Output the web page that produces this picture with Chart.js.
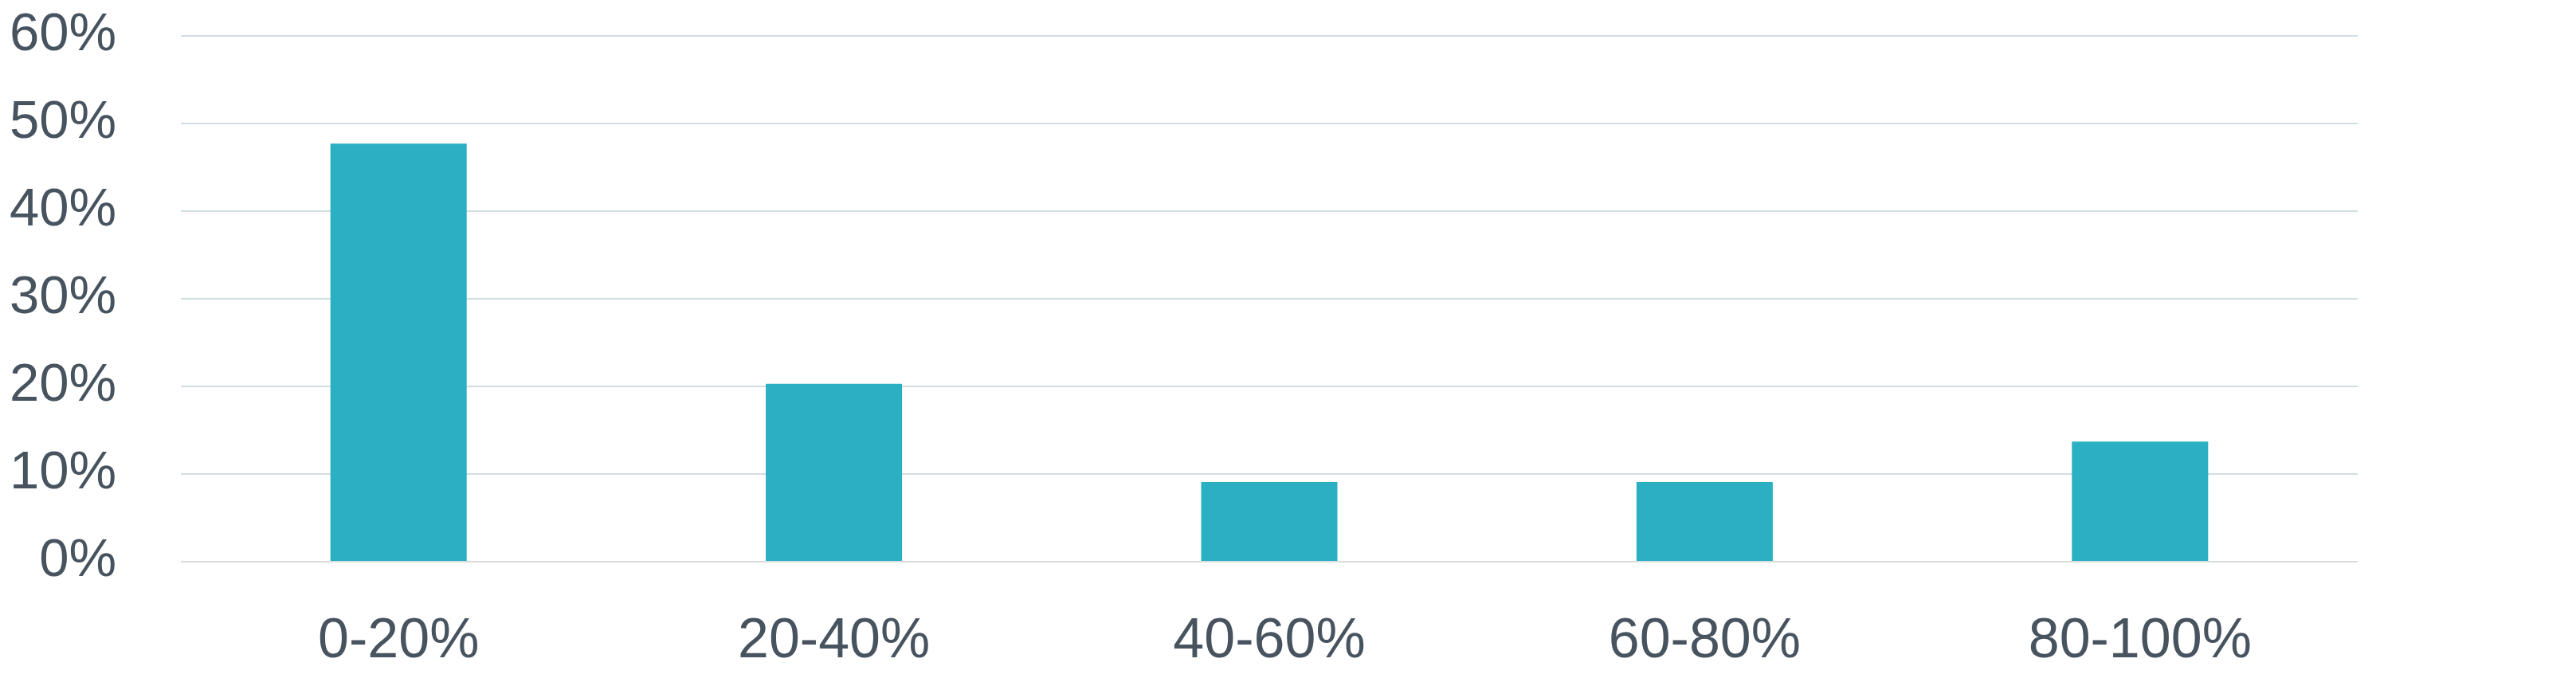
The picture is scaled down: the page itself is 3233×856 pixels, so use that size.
<!DOCTYPE html>
<html>
<head>
<meta charset="utf-8">
<script src="https://cdn.jsdelivr.net/npm/chart.js@4/dist/chart.umd.min.js"></script>
<style>
  html, body { margin: 0; padding: 0; background: #fff; }
  #wrap { width: 3233px; height: 856px; }
</style>
</head>
<body>
<div id="wrap"><canvas id="barChart"></canvas></div>
<script>
// data
const categories = ['0-20%', '20-40%', '40-60%', '60-80%', '80-100%'];
const shares = [47.7, 20.3, 9.1, 9.1, 13.7];
const yTicks = [0, 10, 20, 30, 40, 50, 60];

const barColor = '#2aafc3';
const textColor = '#47535f';
const gridColor = '#d0dee2';
const zeroLineColor = '#d8dcdd';
const fontFamily = '"Liberation Sans", Arial, Helvetica, sans-serif';

const barChart = document.getElementById('barChart');

new Chart(barChart, {
  type: 'bar',
  data: {
    labels: categories,
    datasets: [{
      data: shares,
      backgroundColor: barColor,
      borderWidth: 0,
      barPercentage: 0.313,
      categoryPercentage: 1
    }]
  },
  options: {
    responsive: true,
    maintainAspectRatio: false,
    animation: false,
    devicePixelRatio: 1,
    layout: {
      padding: { top: 45, right: 274, bottom: 0, left: 0 }
    },
    plugins: {
      legend: { display: false },
      tooltip: { enabled: false }
    },
    scales: {
      x: {
        afterFit: function (scale) {
          scale.height = 151;
          scale.paddingLeft = 0;
          scale.paddingRight = 0;
        },
        grid: { display: false, drawTicks: false },
        border: { display: false },
        ticks: {
          color: textColor,
          padding: 59,
          maxRotation: 0,
          font: { family: fontFamily, size: 70, lineHeight: 1.2 }
        }
      },
      y: {
        min: yTicks[0],
        max: yTicks[yTicks.length - 1],
        afterFit: function (scale) {
          scale.width = 227;
          scale.paddingTop = 0;
          scale.paddingBottom = 0;
        },
        afterBuildTicks: function (scale) {
          scale.ticks = yTicks.map(v => ({ value: v }));
        },
        grid: {
          drawTicks: false,
          lineWidth: 2,
          color: ctx => (ctx.tick && ctx.tick.value === 0) ? zeroLineColor : gridColor
        },
        border: { display: false },
        ticks: {
          color: textColor,
          padding: 81,
          callback: v => v + '%',
          font: { family: fontFamily, size: 67, lineHeight: 1.2 }
        }
      }
    }
  }
});
</script>
</body>
</html>
